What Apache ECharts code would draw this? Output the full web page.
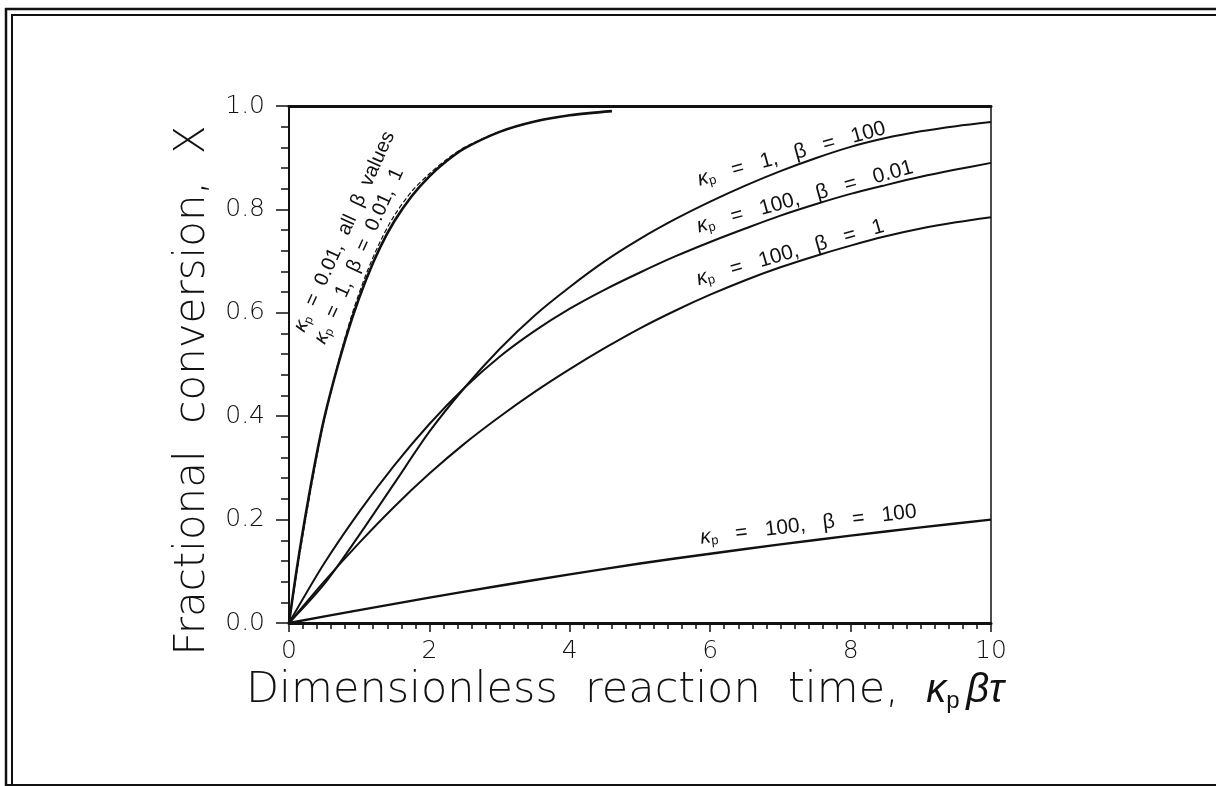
<!DOCTYPE html>
<html>
<head>
<meta charset="utf-8">
<script src="https://cdn.jsdelivr.net/npm/echarts@6/dist/echarts.min.js"></script>
<style>
  html, body { margin: 0; padding: 0; background: #fff; }
  #chart { width: 1216px; height: 786px; }
</style>
</head>
<body>
<div id="chart"></div>
<script>
// Curvas (x = tiempo adimensional, y = conversión X)
const xEmpinada = [0, 0.1, 0.2, 0.35, 0.5, 0.7, 0.9, 1.1, 1.3, 1.5, 1.75, 2, 2.25, 2.5, 3, 3.5, 4, 4.6];
const yEmpinadaA = [0, 0.095, 0.18, 0.295, 0.395, 0.5, 0.59, 0.665, 0.727, 0.777, 0.826, 0.864, 0.894, 0.918, 0.95, 0.97, 0.982, 0.99];
const yEmpinadaB = [0, 0.088, 0.172, 0.288, 0.392, 0.503, 0.598, 0.675, 0.738, 0.788, 0.835, 0.869, 0.897, 0.92, 0.95, 0.97, 0.982, 0.99];

const xTiempo = [0, 0.5, 1, 1.5, 2, 2.5, 3, 3.5, 4, 4.5, 5, 5.5, 6, 6.5, 7, 7.5, 8, 8.5, 9, 9.5, 10];
const yK1B100 = [0, 0.075, 0.17, 0.27, 0.37, 0.455, 0.53, 0.595, 0.65, 0.7, 0.743, 0.781, 0.815, 0.846, 0.874, 0.899, 0.921, 0.938, 0.951, 0.961, 0.969];
const yK100B001 = [0, 0.115, 0.215, 0.305, 0.385, 0.455, 0.515, 0.565, 0.608, 0.645, 0.678, 0.709, 0.737, 0.763, 0.788, 0.81, 0.83, 0.847, 0.863, 0.877, 0.89];
const yK100B1 = [0, 0.08, 0.155, 0.225, 0.289, 0.347, 0.399, 0.447, 0.491, 0.532, 0.57, 0.604, 0.635, 0.663, 0.688, 0.71, 0.73, 0.748, 0.763, 0.775, 0.785];

const xLenta = [0, 1, 2, 3, 4, 5, 6, 7, 8, 9, 10];
const yK100B100 = [0, 0.025, 0.049, 0.072, 0.094, 0.115, 0.134, 0.152, 0.169, 0.185, 0.2];

// Etiquetas de las curvas (centro en coordenadas de datos, giro en grados)
const etiquetas = [
  { x: 7.16, y: 0.907, giro: 15.5, tam: 21, texto: '{k|κ}{p|p}   =   1,   β   =   100' },
  { x: 7.35, y: 0.824, giro: 15.5, tam: 21, texto: '{k|κ}{p|p}   =   100,   β   =   0.01' },
  { x: 7.14, y: 0.716, giro: 16, tam: 21, texto: '{k|κ}{p|p}   =   100,   β   =   1' },
  { x: 7.4, y: 0.19, giro: 7, tam: 21, texto: '{k|κ}{p|p}   =   100,   β   =   100' },
  { x: 0.79, y: 0.757, giro: 65.5, tam: 20, texto: '{k|κ}{p|p}  =  0.01,  all  β  values' },
  { x: 1.0, y: 0.71, giro: 65.5, tam: 20, texto: '{k|κ}{p|p}  =  1,  β  =  0.01,  1' }
];

function unir(xs, ys) {
  return xs.map(function(v, i) { return [v, ys[i]]; });
}

const chart = echarts.init(document.getElementById('chart'), null, { renderer: 'canvas' });

const fuenteTitulo = "'DejaVu Sans', sans-serif";
const fuenteGriega = "'Liberation Sans', Arial, sans-serif";
const fuenteEtiqueta = "'Liberation Sans', Arial, sans-serif";

function serie(nombre, datos, ancho, tipo) {
  return {
    name: nombre,
    type: 'line',
    xAxisIndex: 0,
    yAxisIndex: 0,
    smooth: 0.3,
    showSymbol: false,
    silent: true,
    data: datos,
    lineStyle: { color: '#111', width: ancho, type: tipo || 'solid' },
    z: 3
  };
}

const option = {
  animation: false,
  backgroundColor: '#fff',
  grid: { left: 289, right: 225, top: 106, bottom: 163 },
  xAxis: [
    {
      type: 'value',
      min: 0, max: 10, interval: 2,
      position: 'bottom',
      axisLine: { show: true, lineStyle: { color: '#111', width: 3 } },
      axisTick: { show: true, length: 9, lineStyle: { color: '#111', width: 1.5 } },
      minorTick: { show: true, splitNumber: 10, length: 6, lineStyle: { color: '#111', width: 1.5 } },
      splitLine: { show: false },
      axisLabel: { color: '#111', fontSize: 25, fontFamily: fuenteTitulo, fontWeight: 200, margin: 16 },
      name: '{t|Dimensionless  reaction  time,  }{i|κ}{s|p }{i|βτ}',
      nameLocation: 'middle',
      nameGap: 43,
      nameTextStyle: {
        padding: [0, 30, 0, 0],
        rich: {
          t: { fontSize: 43, fontFamily: fuenteTitulo, fontWeight: 200, color: '#111' },
          i: { fontSize: 40, fontFamily: fuenteGriega, fontStyle: 'italic', color: '#111' },
          s: { fontSize: 24, fontFamily: fuenteGriega, color: '#111', padding: [22, 0, 0, 0] }
        }
      }
    },
    {
      type: 'value',
      min: 0, max: 10,
      position: 'top',
      axisLine: { show: true, onZero: false, lineStyle: { color: '#111', width: 3 } },
      axisTick: { show: false },
      axisLabel: { show: false },
      splitLine: { show: false }
    }
  ],
  yAxis: [
    {
      type: 'value',
      min: 0, max: 1, interval: 0.2,
      position: 'left',
      axisLine: { show: true, lineStyle: { color: '#111', width: 2 } },
      axisTick: { show: true, length: 13, lineStyle: { color: '#111', width: 1.5 } },
      minorTick: { show: true, splitNumber: 5, length: 8, lineStyle: { color: '#111', width: 1.5 } },
      splitLine: { show: false },
      axisLabel: {
        color: '#111', fontSize: 25, fontFamily: fuenteTitulo, fontWeight: 200, margin: 24,
        formatter: function(v) { return v.toFixed(1); }
      },
      name: 'Fractional  conversion,  X',
      nameLocation: 'middle',
      nameGap: 64,
      nameRotate: 90,
      nameTextStyle: {
        fontSize: 42, fontFamily: fuenteTitulo, fontWeight: 200, color: '#111',
        padding: [0, 52, 0, 0]
      }
    },
    {
      type: 'value',
      min: 0, max: 1,
      position: 'right',
      axisLine: { show: true, onZero: false, lineStyle: { color: '#111', width: 1.5 } },
      axisTick: { show: false },
      axisLabel: { show: false },
      splitLine: { show: false }
    }
  ],
  series: [
    serie('κp = 0.01, all β', unir(xEmpinada, yEmpinadaA), 2.6),
    serie('κp = 1, β = 0.01, 1', unir(xEmpinada, yEmpinadaB), 1.2, 'dashed'),
    serie('κp = 1, β = 100', unir(xTiempo, yK1B100), 2),
    serie('κp = 100, β = 0.01', unir(xTiempo, yK100B001), 2),
    serie('κp = 100, β = 1', unir(xTiempo, yK100B1), 2),
    serie('κp = 100, β = 100', unir(xLenta, yK100B100), 2.4)
  ]
};

chart.setOption(option);

// Marco de la página escaneada y etiquetas giradas sobre las curvas
const marco = [
  { type: 'line', shape: { x1: 5, y1: 9, x2: 1216, y2: 9 }, style: { stroke: '#111', lineWidth: 2.5 } },
  { type: 'line', shape: { x1: 11, y1: 15, x2: 1216, y2: 15 }, style: { stroke: '#111', lineWidth: 2 } },
  { type: 'line', shape: { x1: 6, y1: 8, x2: 6, y2: 786 }, style: { stroke: '#111', lineWidth: 2.5 } },
  { type: 'line', shape: { x1: 12, y1: 14, x2: 12, y2: 786 }, style: { stroke: '#111', lineWidth: 2 } },
  { type: 'line', shape: { x1: 5, y1: 785, x2: 1216, y2: 785 }, style: { stroke: '#111', lineWidth: 2 } }
];

const textos = etiquetas.map(function(e) {
  const p = chart.convertToPixel({ xAxisIndex: 0, yAxisIndex: 0 }, [e.x, e.y]);
  return {
    type: 'text',
    x: p[0],
    y: p[1],
    rotation: e.giro * Math.PI / 180,
    z: 10,
    style: {
      text: e.texto,
      fontSize: e.tam,
      fontFamily: fuenteEtiqueta,
      fill: '#111',
      align: 'center',
      verticalAlign: 'middle',
      rich: {
        k: { fontSize: e.tam, fontFamily: fuenteEtiqueta, fill: '#111', fontStyle: 'italic' },
        p: { fontSize: Math.round(e.tam * 0.6), fontFamily: fuenteEtiqueta, fill: '#111', padding: [Math.round(e.tam * 0.45), 0, 0, 0] }
      }
    }
  };
});

chart.setOption({ graphic: marco.concat(textos) });

window.addEventListener('resize', function() {
  chart.resize();
});
</script>
</body>
</html>
